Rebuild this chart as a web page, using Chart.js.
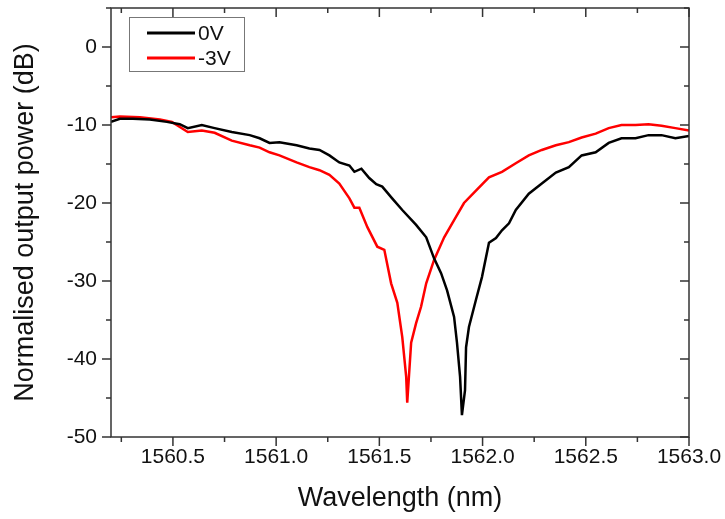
<!DOCTYPE html>
<html>
<head>
<meta charset="utf-8">
<script src="https://cdn.jsdelivr.net/npm/chart.js@4"></script>
<style>
  html, body { margin: 0; padding: 0; background: #fff; }
  #wrap { width: 725px; height: 519px; }
</style>
</head>
<body>
<div id="wrap"><canvas id="chart" width="725" height="519"></canvas></div>
<script>
// 0V trace
const wl0 = [1560.200, 1560.243, 1560.306, 1560.388, 1560.471, 1560.533, 1560.572, 1560.640, 1560.702, 1560.785,
  1560.872, 1560.920, 1560.968, 1561.016, 1561.099, 1561.161, 1561.210, 1561.258, 1561.306, 1561.355,
  1561.379, 1561.413, 1561.451, 1561.485, 1561.514, 1561.562, 1561.611, 1561.678, 1561.727, 1561.765,
  1561.799, 1561.828, 1561.862, 1561.876, 1561.891, 1561.900, 1561.915, 1561.920, 1561.934, 1561.968,
  1561.997, 1562.031, 1562.065, 1562.094, 1562.128, 1562.161, 1562.224, 1562.287, 1562.355, 1562.418,
  1562.480, 1562.548, 1562.611, 1562.673, 1562.741, 1562.804, 1562.867, 1562.934, 1563.000];
const dB0 = [-9.6, -9.2, -9.2, -9.3, -9.6, -9.9, -10.4, -10.0, -10.4, -10.9,
  -11.3, -11.7, -12.3, -12.2, -12.6, -13.0, -13.2, -13.9, -14.8, -15.2,
  -16.0, -15.6, -16.8, -17.6, -17.9, -19.4, -20.9, -22.8, -24.4, -27.1,
  -29.0, -31.2, -34.6, -37.9, -42.3, -47.2, -44.0, -38.5, -35.9, -32.4,
  -29.5, -25.1, -24.5, -23.5, -22.6, -20.9, -18.8, -17.5, -16.1, -15.4,
  -13.9, -13.5, -12.3, -11.7, -11.7, -11.3, -11.3, -11.7, -11.4];

// -3V trace
const wl3 = [1560.200, 1560.243, 1560.340, 1560.437, 1560.495, 1560.572, 1560.640, 1560.702, 1560.785, 1560.872,
  1560.920, 1560.968, 1561.016, 1561.099, 1561.161, 1561.210, 1561.258, 1561.306, 1561.355, 1561.379,
  1561.403, 1561.442, 1561.490, 1561.524, 1561.557, 1561.587, 1561.611, 1561.630, 1561.635, 1561.654,
  1561.678, 1561.702, 1561.727, 1561.765, 1561.814, 1561.862, 1561.910, 1561.968, 1562.031, 1562.094,
  1562.161, 1562.224, 1562.287, 1562.355, 1562.418, 1562.480, 1562.548, 1562.611, 1562.673, 1562.741,
  1562.804, 1562.867, 1562.934, 1563.000];
const dB3 = [-9.0, -8.9, -9.0, -9.3, -9.6, -10.9, -10.7, -11.0, -12.0, -12.6,
  -12.9, -13.5, -13.9, -14.8, -15.4, -15.8, -16.4, -17.5, -19.4, -20.6,
  -20.6, -23.1, -25.6, -26.0, -30.3, -32.8, -37.2, -42.3, -45.6, -37.9,
  -35.4, -33.3, -30.3, -27.3, -24.4, -22.2, -20.0, -18.4, -16.7, -16.0,
  -14.9, -13.9, -13.2, -12.6, -12.2, -11.6, -11.1, -10.4, -10.0, -10.0,
  -9.9, -10.1, -10.4, -10.7];

const xMajor = [1560.5, 1561.0, 1561.5, 1562.0, 1562.5, 1563.0];
const xMinor = [1560.25, 1560.75, 1561.25, 1561.75, 1562.25, 1562.75];
const yMajor = [0, -10, -20, -30, -40, -50];
const yMinor = [5, -5, -15, -25, -35, -45];

const toPoints = (xs, ys) => xs.map((x, i) => ({ x: x, y: ys[i] }));

const axisColor = '#333';
const font = 'Liberation Sans, Arial, sans-serif';

// box frame with outward ticks on left/bottom and inward ticks on top/right
const frameTicks = {
  id: 'frameTicks',
  afterDraw(chart) {
    const { ctx, chartArea: a, scales: { x, y } } = chart;
    ctx.save();
    ctx.strokeStyle = axisColor;
    ctx.lineWidth = 1.5;
    ctx.strokeRect(a.left, a.top, a.right - a.left, a.bottom - a.top);
    const tick = (vals, len) => {
      vals.forEach(v => {
        const px = x.getPixelForValue(v);
        ctx.beginPath();
        ctx.moveTo(px, a.bottom); ctx.lineTo(px, a.bottom + len);
        ctx.moveTo(px, a.top); ctx.lineTo(px, a.top + len);
        ctx.stroke();
      });
    };
    tick(xMajor, 9);
    tick(xMinor, 5);
    const ytick = (vals, len) => {
      vals.forEach(v => {
        const py = y.getPixelForValue(v);
        ctx.beginPath();
        ctx.moveTo(a.left, py); ctx.lineTo(a.left - len, py);
        ctx.moveTo(a.right, py); ctx.lineTo(a.right - len, py);
        ctx.stroke();
      });
    };
    ytick(yMajor, 9);
    ytick(yMinor, 5);
    ctx.restore();
  }
};

// legend box inside the plot, upper left
const boxLegend = {
  id: 'boxLegend',
  afterDraw(chart) {
    const { ctx, chartArea: a } = chart;
    const bx = a.left + 18, by = a.top + 9, bw = 115, bh = 54;
    ctx.save();
    ctx.fillStyle = '#fff';
    ctx.fillRect(bx, by, bw, bh);
    ctx.strokeStyle = '#777';
    ctx.lineWidth = 1;
    ctx.strokeRect(bx + 0.5, by + 0.5, bw, bh);
    ctx.font = '21px ' + font;
    ctx.textBaseline = 'middle';
    chart.data.datasets.forEach((ds, i) => {
      const ly = by + 16 + i * 25;
      ctx.strokeStyle = ds.borderColor;
      ctx.lineWidth = 3;
      ctx.beginPath();
      ctx.moveTo(bx + 18, ly); ctx.lineTo(bx + 66, ly);
      ctx.stroke();
      ctx.fillStyle = '#111';
      ctx.fillText(ds.label, bx + 69, ly + 1);
    });
    ctx.restore();
  }
};

new Chart(document.getElementById('chart').getContext('2d'), {
  type: 'line',
  data: {
    datasets: [
      {
        label: '0V',
        data: toPoints(wl0, dB0),
        borderColor: '#000000',
        borderWidth: 2.5,
        pointRadius: 0,
        fill: false,
        tension: 0
      },
      {
        label: '-3V',
        data: toPoints(wl3, dB3),
        borderColor: '#ff0000',
        borderWidth: 2.5,
        pointRadius: 0,
        fill: false,
        tension: 0
      }
    ]
  },
  options: {
    responsive: false,
    animation: false,
    layout: { padding: { top: 8, right: 36, left: 0, bottom: 0 } },
    plugins: {
      legend: { display: false },
      tooltip: { enabled: false }
    },
    scales: {
      x: {
        type: 'linear',
        min: 1560.2,
        max: 1563.0,
        afterBuildTicks: s => { s.ticks = xMajor.map(v => ({ value: v })); },
        afterFit: s => { s.height = 82; s.paddingLeft = 0; s.paddingRight = 0; },
        grid: { display: false, drawTicks: false },
        border: { display: false },
        ticks: {
          padding: 8,
          maxRotation: 0,
          color: '#111',
          font: { family: font, size: 21 },
          callback: v => v.toFixed(1)
        },
        title: {
          display: true,
          text: 'Wavelength (nm)',
          color: '#111',
          font: { family: font, size: 27 },
          padding: { top: 0, bottom: 4 }
        }
      },
      y: {
        min: -50,
        max: 5,
        afterBuildTicks: s => { s.ticks = yMajor.map(v => ({ value: v })); },
        afterFit: s => { s.width = 111; s.paddingTop = 0; s.paddingBottom = 0; },
        grid: { display: false, drawTicks: false },
        border: { display: false },
        ticks: {
          padding: 14,
          color: '#111',
          font: { family: font, size: 21 },
          callback: v => String(v)
        },
        title: {
          display: true,
          text: 'Normalised output power (dB)',
          color: '#111',
          font: { family: font, size: 27 },
          padding: { top: 9, bottom: 0 }
        }
      }
    }
  },
  plugins: [frameTicks, boxLegend]
});
</script>
</body>
</html>
